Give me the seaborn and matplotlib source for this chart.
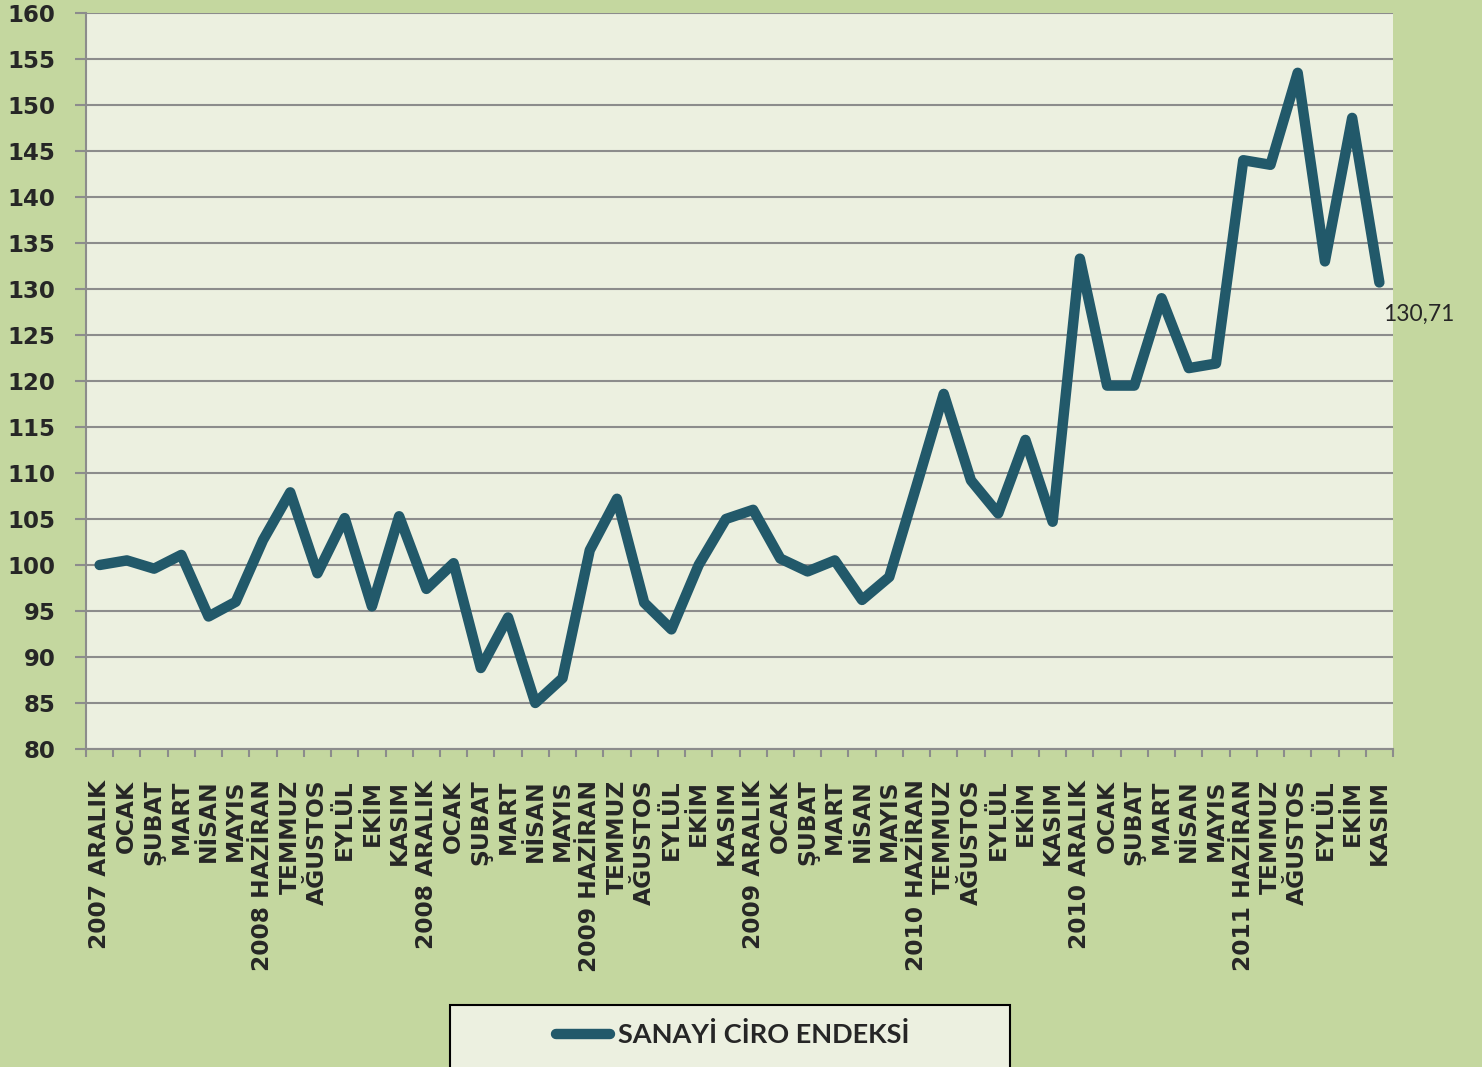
"""
Sanayi ciro endeksi line chart (2007 Aralik - 2011 Kasim).
"""

import matplotlib

matplotlib.use("Agg")
import matplotlib.pyplot as plt
import numpy as np
import pandas as pd
import seaborn as sns
from matplotlib.patches import Rectangle

# category labels along the x axis
months = [
    "2007 ARALIK", "OCAK", "ŞUBAT", "MART", "NİSAN", "MAYIS",
    "2008 HAZİRAN", "TEMMUZ", "AĞUSTOS", "EYLÜL", "EKİM", "KASIM",
    "2008 ARALIK", "OCAK", "ŞUBAT", "MART", "NİSAN", "MAYIS",
    "2009 HAZİRAN", "TEMMUZ", "AĞUSTOS", "EYLÜL", "EKİM", "KASIM",
    "2009 ARALIK", "OCAK", "ŞUBAT", "MART", "NİSAN", "MAYIS",
    "2010 HAZİRAN", "TEMMUZ", "AĞUSTOS", "EYLÜL", "EKİM", "KASIM",
    "2010 ARALIK", "OCAK", "ŞUBAT", "MART", "NİSAN", "MAYIS",
    "2011 HAZİRAN", "TEMMUZ", "AĞUSTOS", "EYLÜL", "EKİM", "KASIM",
]

# index values
ciro = [
    100.0, 100.5, 99.6, 101.1, 94.4, 96.0,
    102.7, 107.9, 99.1, 105.1, 95.5, 105.3,
    97.4, 100.2, 88.8, 94.3, 85.0, 87.7,
    101.6, 107.2, 95.9, 93.0, 100.0, 105.0,
    106.0, 100.7, 99.3, 100.5, 96.2, 98.7,
    108.6, 118.6, 109.2, 105.6, 113.6, 104.7,
    133.3, 119.5, 119.5, 129.0, 121.4, 121.9,
    144.0, 143.5, 153.5, 133.0, 148.6, 130.71,
]

series_name = "SANAYİ CİRO ENDEKSİ"
y_ticks = list(range(80, 161, 5))

OUTER_BG = "#C4D79F"
PLOT_BG = "#ECF0E0"
LINE_COLOR = "#22596A"
GRID_COLOR = "#8C8C8C"

sns.set_style("white")
plt.rcParams["font.family"] = ["DejaVu Sans"]

df = pd.DataFrame({"idx": np.arange(len(ciro)), "value": ciro, "series": series_name})

fig = plt.figure(figsize=(14.82, 10.67), dpi=100, facecolor=OUTER_BG)
ax = fig.add_axes([86 / 1482, 1 - 749 / 1067, 1307 / 1482, 736 / 1067])
ax.set_facecolor(PLOT_BG)

sns.lineplot(
    data=df, x="idx", y="value", hue="series", palette=[LINE_COLOR],
    linewidth=7.5, sort=False, ax=ax, legend=False,
    solid_capstyle="round", solid_joinstyle="round",
)

# axes limits and ticks
ax.set_xlim(-0.5, len(ciro) - 0.5)
ax.set_ylim(80, 160)
ax.set_yticks(y_ticks)
ax.set_xticks(np.arange(len(months)))
ax.set_xticklabels(months, rotation=90, fontsize=16.8, fontweight="bold")
ax.set_xticks(np.arange(-0.5, len(months), 1), minor=True)
ax.set_xlabel("")
ax.set_ylabel("")

ax.tick_params(axis="x", which="major", bottom=True, length=0, pad=22)
ax.tick_params(axis="x", which="minor", bottom=True, length=6, width=1.5, color=GRID_COLOR)
ax.tick_params(axis="y", left=True, length=8, width=1.5, color=GRID_COLOR, pad=14, labelsize=16.5)
for lbl in ax.get_yticklabels():
    lbl.set_fontweight("bold")

ax.grid(axis="y", color=GRID_COLOR, linewidth=1.5)
ax.grid(axis="x", visible=False)
ax.set_axisbelow(True)
for side in ["top", "right"]:
    ax.spines[side].set_visible(False)
for side in ["left", "bottom"]:
    ax.spines[side].set_color(GRID_COLOR)
    ax.spines[side].set_linewidth(1.5)

# last value label
ax.annotate(
    "130,71", xy=(len(ciro) - 1, ciro[-1]), xytext=(3, -23),
    textcoords="offset points", ha="left", va="center",
    fontsize=16.5, family="Lato", annotation_clip=False,
)

# legend box at the bottom
fig.patches.append(
    Rectangle((450 / 1482, -0.02), 560 / 1482, 0.02 + 1 - 1005 / 1067,
              transform=fig.transFigure, facecolor=PLOT_BG, edgecolor="black",
              linewidth=1.5, zorder=0)
)
handle = plt.Line2D([], [], color=LINE_COLOR, linewidth=7.5, solid_capstyle="round")
fig.legend(
    [handle], [series_name], loc="center", bbox_to_anchor=(733 / 1482, 0.030),
    frameon=False, handlelength=2.0, handletextpad=0.3,
    prop={"family": "Lato", "weight": "bold", "size": 19.5},
)

plt.savefig("out.png", dpi=100, facecolor=OUTER_BG)
